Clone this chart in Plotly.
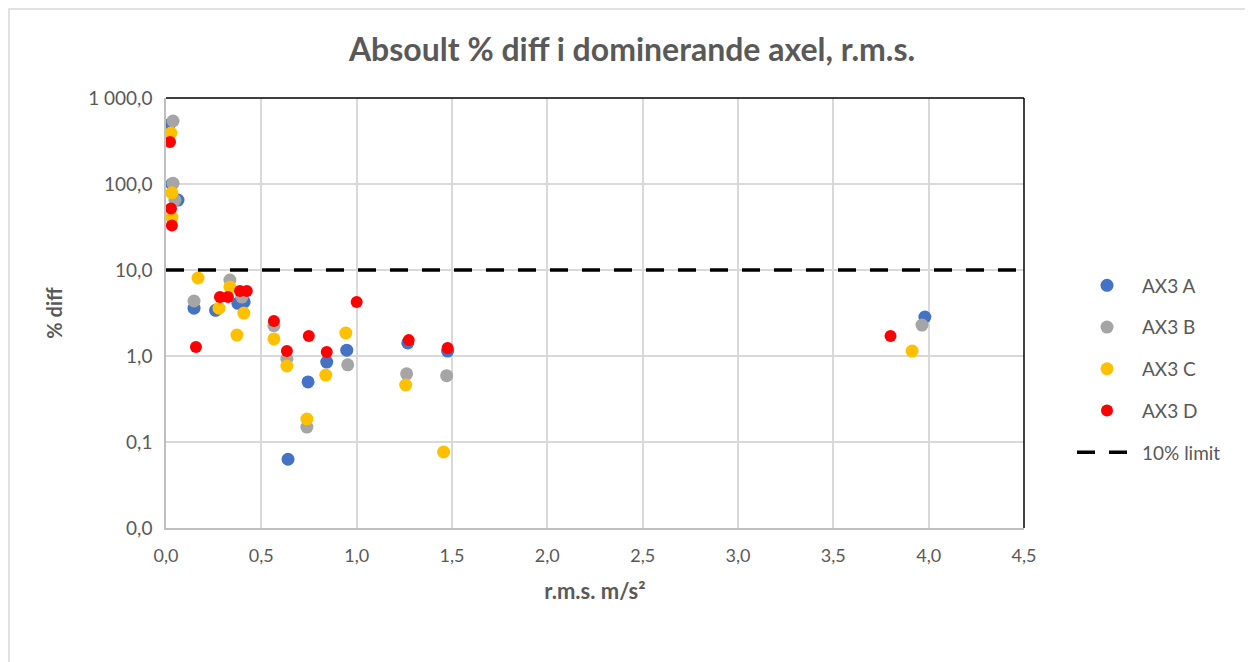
import plotly.graph_objects as go

# ---- data ----
ax3a_x = [0.016, 0.031, 0.063, 0.147, 0.26, 0.377, 0.41, 0.64, 0.745, 0.843, 0.948, 1.268, 1.477, 3.98]
ax3a_y = [485, 100, 65, 3.6, 3.4, 4.1, 4.25, 0.063, 0.50, 0.85, 1.17, 1.42, 1.14, 2.84]

ax3b_x = [0.037, 0.037, 0.047, 0.147, 0.335, 0.398, 0.566, 0.634, 0.739, 0.953, 1.262, 1.472, 3.965]
ax3b_y = [540, 102, 65, 4.36, 7.65, 4.85, 2.25, 0.92, 0.149, 0.79, 0.62, 0.59, 2.29]

ax3c_x = [0.026, 0.031, 0.031, 0.168, 0.278, 0.335, 0.408, 0.372, 0.566, 0.634, 0.739, 0.838, 0.943, 1.257, 1.456, 3.913]
ax3c_y = [392, 79, 41, 8.07, 3.6, 6.35, 3.16, 1.75, 1.58, 0.765, 0.185, 0.60, 1.85, 0.46, 0.0765, 1.14]

ax3d_x = [0.021, 0.026, 0.031, 0.157, 0.283, 0.325, 0.388, 0.424, 1.0, 0.566, 0.634, 0.749, 0.843, 1.273, 1.477, 3.80]
ax3d_y = [308, 52, 33, 1.27, 4.86, 4.86, 5.7, 5.7, 4.25, 2.55, 1.14, 1.71, 1.11, 1.53, 1.24, 1.71]

limit_x = [0, 4.5]
limit_y = [10, 10]

x_ticks = [0, 0.5, 1.0, 1.5, 2.0, 2.5, 3.0, 3.5, 4.0, 4.5]
x_ticktext = ["0,0", "0,5", "1,0", "1,5", "2,0", "2,5", "3,0", "3,5", "4,0", "4,5"]
y_ticks = [0.01, 0.1, 1, 10, 100, 1000]
y_ticktext = ["0,0", "0,1", "1,0", "10,0", "100,0", "1 000,0"]

FONT = "Lato"
TXT = "#595959"

fig = go.Figure()
series = [
    ("AX3 A", ax3a_x, ax3a_y, "#4472C4", 13),
    ("AX3 B", ax3b_x, ax3b_y, "#A5A5A5", 13),
    ("AX3 C", ax3c_x, ax3c_y, "#FFC000", 13),
    ("AX3 D", ax3d_x, ax3d_y, "#FF0000", 12),
]
for i, (name, xs, ys, col, sz) in enumerate(series):
    fig.add_trace(go.Scatter(
        x=xs, y=ys, mode="markers", name=name, legendgroup=f"g{i}",
        marker=dict(color=col, size=sz, line=dict(width=0)),
    ))
fig.add_trace(go.Scatter(
    x=limit_x, y=limit_y, mode="lines", name="10% limit", legendgroup="g9",
    line=dict(color="black", width=3.5, dash="18px,14px"),
))

# page body has an 8px margin, so the margins are shifted to compensate
L, R, T, B = 158, 237, 90, 142
PW = 1253 - L - R
PH = 662 - T - B

fig.update_layout(
    width=1253, height=662,
    margin=dict(l=L, r=R, t=T, b=B),
    paper_bgcolor="white", plot_bgcolor="white",
    font=dict(family=FONT, color=TXT, size=18),
    title=dict(text="<b>Absoult % diff i dominerande axel, r.m.s.</b>",
               x=(632 - 8) / 1253, xanchor="center", y=1 - 42 / 662, yanchor="middle",
               font=dict(size=32, color=TXT, family=FONT)),
    showlegend=True,
    legend=dict(x=(1072 - 166) / PW, xanchor="left", y=(528 - 369) / PH, yanchor="middle",
                font=dict(size=19, color=TXT, family=FONT),
                traceorder="grouped", tracegroupgap=14,
                bgcolor="rgba(0,0,0,0)", itemwidth=60),
    xaxis=dict(range=[0, 4.5], tickvals=x_ticks, ticktext=x_ticktext,
               showgrid=True, gridcolor="#D9D9D9", gridwidth=1.5,
               showline=True, linecolor="#BFBFBF", linewidth=1.5,
               zeroline=False, ticks="", ticklabelstandoff=11,
               tickfont=dict(size=18, color=TXT),
               title=dict(text="<b>r.m.s. m/s²</b>", standoff=18,
                          font=dict(size=22, color=TXT))),
    yaxis=dict(type="log", range=[-2, 3], tickvals=y_ticks, ticktext=y_ticktext,
               showgrid=True, gridcolor="#D9D9D9", gridwidth=1.5,
               showline=True, linecolor="#BFBFBF", linewidth=1.5,
               zeroline=False, ticks="", ticklabelstandoff=8,
               tickfont=dict(size=19, color=TXT),
               title=dict(text="<b>% diff</b>", standoff=20,
                          font=dict(size=20, color=TXT))),
    shapes=[
        # plot area border top and right (black)
        dict(type="line", xref="paper", yref="paper", x0=0, x1=1, y0=1, y1=1,
             line=dict(color="black", width=1.5), layer="above"),
        dict(type="line", xref="paper", yref="paper", x0=1, x1=1, y0=0, y1=1,
             line=dict(color="black", width=1.5), layer="above"),
        # chart area border (light grey)
        dict(type="rect", xref="paper", yref="paper",
             x0=(9 - 166) / PW, x1=1.35, y0=-0.4, y1=(528 - 9) / PH,
             line=dict(color="#D9D9D9", width=1.5), layer="below"),
    ],
)

fig.write_html("out.html")
